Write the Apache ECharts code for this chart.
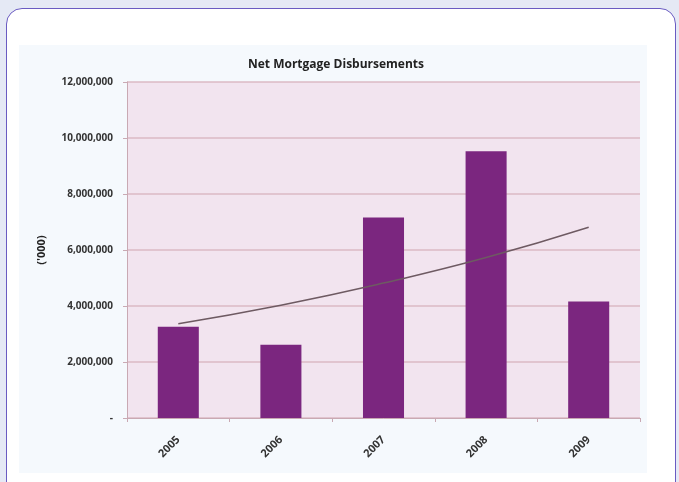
<!DOCTYPE html>
<html>
<head>
<meta charset="utf-8">
<script src="https://cdn.jsdelivr.net/npm/echarts@6/dist/echarts.min.js"></script>
<style>
html,body{margin:0;padding:0;width:679px;height:482px;overflow:hidden;background:#e5e9f5;}
#panel{position:absolute;left:6px;top:8px;width:668px;height:500px;background:#ffffff;border:1.5px solid #6a5bc2;border-radius:16px;}
#chart{position:absolute;left:19px;top:45px;width:628px;height:428px;background:#f5f9fd;}
</style>
</head>
<body>
<div id="panel"></div>
<div id="chart"></div>
<script>
const years = ['2005', '2006', '2007', '2008', '2009'];
const disbursements = [3260000, 2620000, 7160000, 9530000, 4160000];
const trendValues = [3370000, 4030000, 4820000, 5730000, 6810000];
const yTicks = [0, 2000000, 4000000, 6000000, 8000000, 10000000, 12000000];

const chart = echarts.init(document.getElementById('chart'), null, {renderer: 'canvas'});
const fontFam = '"Open Sans", "Liberation Sans", sans-serif';
chart.setOption({
  animation: false,
  title: {
    text: 'Net Mortgage Disbursements',
    left: 312, top: 9, textAlign: 'center',
    textStyle: {fontFamily: fontFam, fontSize: 12, fontWeight: 'bold', color: '#222'}
  },
  grid: {left: 108, top: 37, right: 7, bottom: 55, show: true, backgroundColor: '#f2e4ef', borderWidth: 0},
  xAxis: {
    type: 'category', data: years, boundaryGap: true,
    axisLine: {lineStyle: {color: '#c9a9b3', width: 1}},
    axisTick: {show: true, length: 4, lineStyle: {color: '#c9a9b3'}},
    axisLabel: {rotate: 45, margin: 20, fontFamily: fontFam, fontSize: 11, fontWeight: 'bold', color: '#333'}
  },
  yAxis: {
    type: 'value', min: yTicks[0], max: yTicks[yTicks.length - 1], interval: 2000000,
    name: "('000)", nameLocation: 'middle', nameRotate: 90, nameGap: 80,
    nameTextStyle: {fontFamily: fontFam, fontSize: 11, fontWeight: 'bold', color: '#222'},
    axisLine: {show: true, lineStyle: {color: '#c9a9b3'}},
    axisTick: {show: true, length: 4, lineStyle: {color: '#c9a9b3'}},
    splitLine: {lineStyle: {color: '#dbbac4', width: 1.5}},
    axisLabel: {
      margin: 14, fontFamily: fontFam, fontSize: 10, fontWeight: 'bold', color: '#333',
      formatter: v => v === 0 ? '-' : v.toLocaleString('en-US')
    }
  },
  series: [
    {type: 'bar', data: disbursements, barWidth: '40%', itemStyle: {color: '#7b267f'}},
    {type: 'line', data: trendValues, smooth: true, symbol: 'none', lineStyle: {color: '#6e5a62', width: 1.5}, z: 5}
  ]
});
</script>
</body>
</html>
